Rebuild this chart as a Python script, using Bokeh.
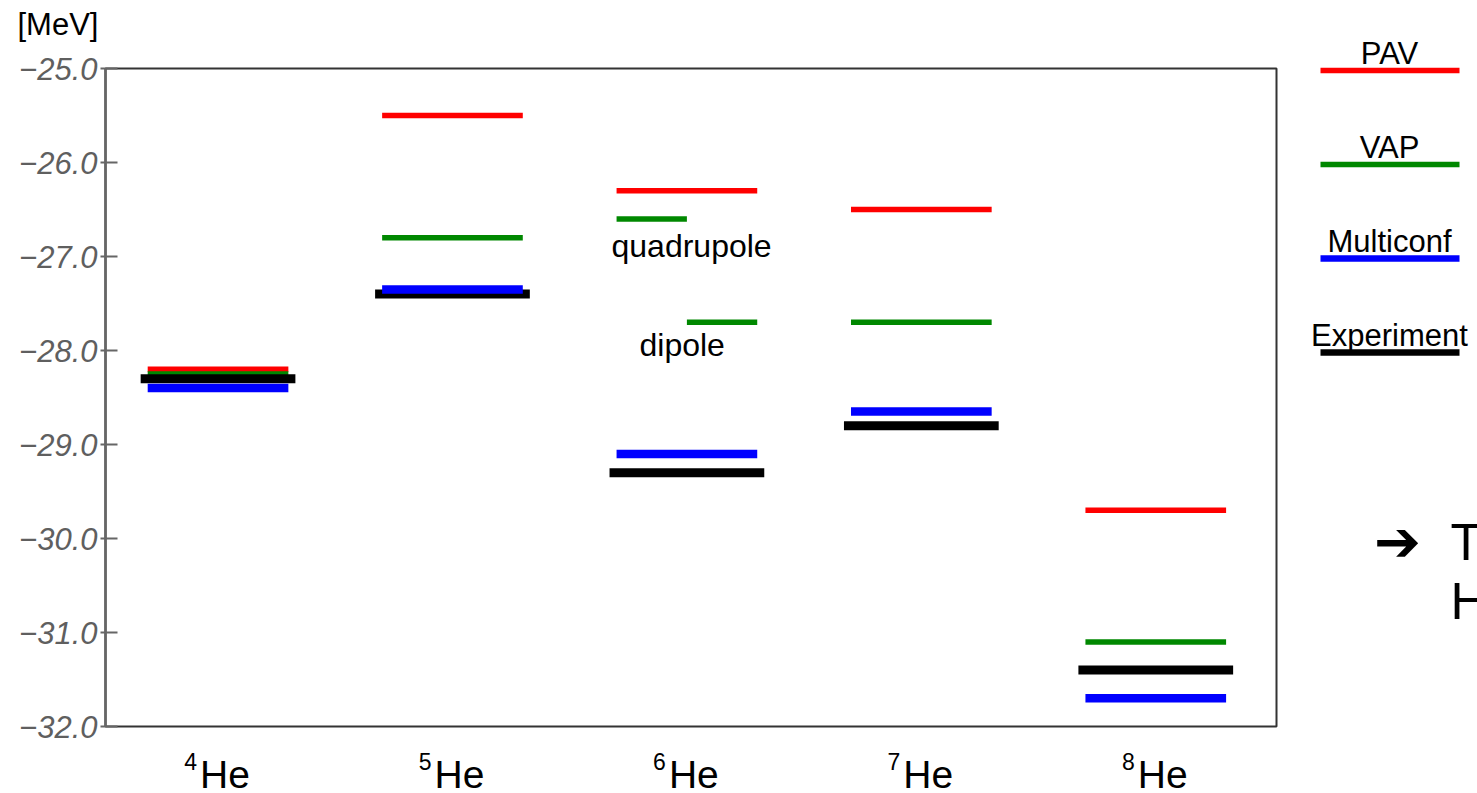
from bokeh.plotting import figure
from bokeh.layouts import row, column
from bokeh.models import Range1d, FixedTicker, CustomJSTickFormatter, ColumnDataSource
from bokeh.core.properties import value
from bokeh.embed import file_html
from bokeh.resources import INLINE

# Helium isotope binding energies [MeV]
mass_numbers = ["4", "5", "6", "7", "8"]
element = "He"
pav = [-28.2, -25.5, -26.3, -26.5, -29.7]
vap = [-28.25, -26.8, None, -27.7, -31.1]
vap_6he_quadrupole = -26.6
vap_6he_dipole = -27.7
multiconf = [-28.4, -27.35, -29.1, -28.65, -31.7]
experiment = [-28.3, -27.4, -29.3, -28.8, -31.4]

legend_names = ["PAV", "VAP", "Multiconf", "Experiment"]
y_ticks = [-32, -31, -30, -29, -28, -27, -26, -25]

FONT = "Liberation Sans"
RED, GREEN, BLUE, BLACK = "#ff0000", "#008800", "#0000ff", "#000000"

Y_MIN, Y_MAX = -32.0, -25.0
H = 793
LEFT_W = 1290
TOP_STRIP, BOTTOM_STRIP = 56, 55
PAD = 12
FRAME_H = H - TOP_STRIP - BOTTOM_STRIP - 2 * PAD
PX_PER_MEV = FRAME_H / (Y_MAX - Y_MIN)


def base_fix(size_px):
    # lift for alphabetic baselines, in pixels
    return 10 * size_px / 31


def txt(fig, x, y, s, size, align="center", baseline="alphabetic", font=FONT, **kw):
    fig.text(x=[x], y=[y], text=[s], text_font=value(font), text_font_size=f"{size}px",
             text_align=align, text_baseline=baseline, text_color="black", **kw)


def bare(fig):
    fig.axis.visible = False
    fig.grid.visible = False
    fig.outline_line_color = None
    fig.border_fill_color = "white"
    fig.background_fill_color = "white"
    fig.frame_align = False


# main level diagram
p = figure(width=LEFT_W, height=H - TOP_STRIP - BOTTOM_STRIP,
           x_range=Range1d(-0.48, 4.515), y_range=Range1d(Y_MIN, Y_MAX),
           output_backend="svg", toolbar_location=None,
           min_border_left=105, min_border_right=14,
           min_border_top=PAD, min_border_bottom=PAD)
p.xaxis.visible = False
p.grid.visible = False
p.outline_line_color = "#333333"
p.outline_line_width = 2
p.border_fill_color = "white"
p.frame_align = False

yax = p.yaxis[0]
yax.ticker = FixedTicker(ticks=y_ticks)
yax.formatter = CustomJSTickFormatter(
    code="return (tick < 0 ? '\\u2212' : '') + Math.abs(tick).toFixed(1);")
yax.major_label_text_font = FONT
yax.major_label_text_font_style = "italic"
yax.major_label_text_font_size = "31px"
yax.major_label_text_color = "#5f5f5f"
yax.major_label_standoff = 3
yax.major_tick_in = 12
yax.major_tick_out = 5
yax.major_tick_line_color = "#666666"
yax.major_tick_line_width = 2
yax.minor_tick_line_color = None
yax.axis_line_color = "#666666"
yax.axis_line_width = 2.5

xs = list(range(len(mass_numbers)))
HW, HW_EXP = 0.30, 0.33


def levels(vals, hw):
    pts = [(x, v) for x, v in zip(xs, vals) if v is not None]
    return ColumnDataSource(dict(x0=[x - hw for x, _ in pts],
                                 x1=[x + hw for x, _ in pts],
                                 y=[v for _, v in pts]))


p.segment("x0", "y", "x1", "y", source=levels(pav, HW), line_color=RED, line_width=5.5)
p.segment("x0", "y", "x1", "y", source=levels(vap, HW), line_color=GREEN, line_width=5.5)
# 6He VAP: quadrupole and dipole solutions drawn as half-width levels
i6 = mass_numbers.index("6")
p.segment(x0=[i6 - HW, i6], y0=[vap_6he_quadrupole, vap_6he_dipole],
          x1=[i6, i6 + HW], y1=[vap_6he_quadrupole, vap_6he_dipole],
          line_color=GREEN, line_width=5.5)
p.segment("x0", "y", "x1", "y", source=levels(experiment, HW_EXP), line_color=BLACK, line_width=9)
p.segment("x0", "y", "x1", "y", source=levels(multiconf, HW), line_color=BLUE, line_width=8.5)

txt(p, i6 + 0.02, vap_6he_quadrupole - 0.4 + base_fix(32) / PX_PER_MEV, "quadrupole", 32)
txt(p, i6 - 0.02, vap_6he_dipole - 0.35 + base_fix(32) / PX_PER_MEV, "dipole", 32)

# strip above: unit label
top = figure(width=LEFT_W, height=TOP_STRIP, x_range=Range1d(0, LEFT_W),
             y_range=Range1d(0, TOP_STRIP), output_backend="svg", toolbar_location=None,
             min_border_left=0, min_border_right=0, min_border_top=0, min_border_bottom=0)
bare(top)
txt(top, 17, TOP_STRIP - 34 + base_fix(31), "[MeV]", 31, align="left")

# strip below: isotope labels with raised mass number
bottom = figure(width=LEFT_W, height=BOTTOM_STRIP, x_range=p.x_range,
                y_range=Range1d(0, BOTTOM_STRIP), output_backend="svg", toolbar_location=None,
                min_border_left=105, min_border_right=14, min_border_top=0, min_border_bottom=0)
bare(bottom)
for x, a in zip(xs, mass_numbers):
    txt(bottom, x, 25 + base_fix(23), a, 23, align="right", x_offset=-21)
    txt(bottom, x, 6 + base_fix(39), element, 39, align="left", x_offset=-18)

# side panel: legend and note
W2 = 187
PAD_TOP = TOP_STRIP + PAD
PAD_BOTTOM = BOTTOM_STRIP + PAD
p2 = figure(width=W2, height=H, x_range=Range1d(0, W2),
            y_range=Range1d(Y_MIN - PAD_BOTTOM / PX_PER_MEV, Y_MAX + PAD_TOP / PX_PER_MEV),
            output_backend="svg", toolbar_location=None,
            min_border_left=0, min_border_right=0, min_border_top=0, min_border_bottom=0)
bare(p2)

legend_colors = [RED, GREEN, BLUE, BLACK]
legend_widths = [5.5, 5.5, 6.5, 6.5]
for i, (name, c, w) in enumerate(zip(legend_names, legend_colors, legend_widths)):
    ly = Y_MAX - i - 0.02
    p2.segment(x0=[30], y0=[ly], x1=[169], y1=[ly], line_color=c, line_width=w)
    txt(p2, 99, ly + (7 + base_fix(31)) / PX_PER_MEV, name, 31)

txt(p2, 107, -30.03, "\u2794", 56, baseline="middle", font="DejaVu Sans",
    text_font_style="bold")
txt(p2, 160, -30.22 + base_fix(51) / PX_PER_MEV, "T", 51, align="left")
txt(p2, 160, -30.85 + base_fix(51) / PX_PER_MEV, "H", 51, align="left")

layout = row(column(top, p, bottom, spacing=0), p2, spacing=0)
open("out.html", "w").write(file_html(layout, INLINE))
